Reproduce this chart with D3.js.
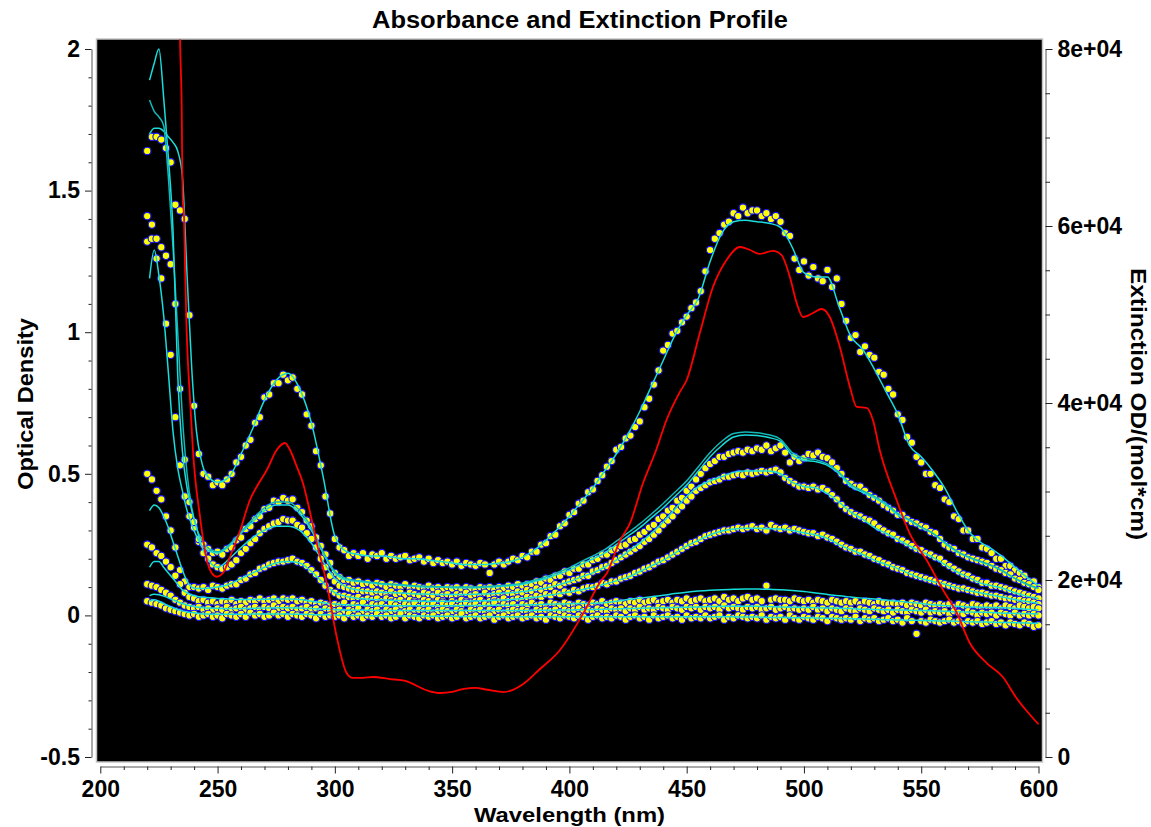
<!DOCTYPE html>
<html>
<head>
<meta charset="utf-8">
<script src="https://cdn.jsdelivr.net/npm/d3@7"></script>
<style>
  body { margin: 0; background: #fff; }
  svg text { font-family: "Liberation Sans", Arial, sans-serif; font-weight: bold; }
</style>
</head>
<body>
<script>
width = 1151
height = 827

// measured points every 2 nm, fitted curves on their own grid
var dotWl = d3.range(220, 601, 2);
var fitWl = [221,223,225,227,229,231,233,235,237,239,241,243,245,
  250,255,260,265,270,275,280,285,290,295,300,305,310,315,320,325,330,335,340,345,
  350,355,360,365,370,375,380,385,390,395,400,405,410,415,420,425,430,435,440,445,
  450,455,460,465,470,475,480,485,490,495,500,505,510,515,520,525,530,535,540,545,
  550,555,560,565,570,575,580,585,590,595,600];

var spec1 = [1.64,1.69,1.69,1.68,1.65,1.6,1.45,1.43,1.4,1.06,
  0.74,0.57,0.5,0.49,0.46,0.47,0.46,0.48,0.5,0.54,
  0.56,0.6,0.62,0.68,0.7,0.77,0.78,0.82,0.82,0.85,
  0.83,0.84,0.8,0.78,0.71,0.67,0.58,0.53,0.42,0.36,
  0.27,0.24,0.23,0.21,0.22,0.21,0.22,0.2,0.215,0.21,
  0.22,0.2,0.21,0.2,0.205,0.21,0.195,0.2,0.205,0.19,
  0.2,0.185,0.195,0.185,0.19,0.18,0.19,0.175,0.185,0.18,
  0.175,0.185,0.18,0.15,0.18,0.19,0.18,0.19,0.2,0.195,
  0.21,0.205,0.225,0.225,0.25,0.255,0.28,0.285,0.315,0.325,
  0.355,0.365,0.395,0.405,0.435,0.445,0.475,0.495,0.525,0.545,
  0.585,0.595,0.625,0.635,0.665,0.685,0.735,0.765,0.815,0.865,
  0.935,0.955,0.995,1.005,1.035,1.055,1.085,1.105,1.145,1.215,
  1.29,1.33,1.35,1.38,1.39,1.42,1.41,1.44,1.42,1.43,
  1.43,1.41,1.42,1.4,1.41,1.39,1.35,1.34,1.26,1.22,
  1.25,1.2,1.23,1.19,1.18,1.22,1.16,1.19,1.1,1.04,
  0.98,0.99,0.93,0.95,0.92,0.91,0.86,0.85,0.8,0.78,
  0.71,0.69,0.63,0.61,0.56,0.54,0.5,0.5,0.46,0.45,
  0.41,0.4,0.35,0.34,0.3,0.3,0.27,0.27,0.24,0.235,
  0.22,0.2,0.2,0.175,0.175,0.16,0.15,0.14,0.12,0.12,
  0.1];

var spec2 = [1.32,1.33,1.26,1.19,1.03,0.92,0.7,0.53,0.42,0.35,
  0.31,0.26,0.25,0.235,0.22,0.225,0.215,0.235,0.24,0.265,
  0.275,0.305,0.315,0.34,0.35,0.375,0.38,0.405,0.4,0.415,
  0.405,0.41,0.38,0.365,0.335,0.315,0.275,0.245,0.215,0.185,
  0.15,0.135,0.12,0.125,0.115,0.12,0.11,0.115,0.105,0.115,
  0.11,0.1,0.11,0.105,0.1,0.11,0.095,0.105,0.1,0.095,
  0.105,0.095,0.1,0.09,0.1,0.095,0.1,0.09,0.1,0.095,
  0.09,0.1,0.095,0.1,0.09,0.1,0.095,0.105,0.1,0.11,
  0.1,0.11,0.105,0.12,0.115,0.13,0.125,0.14,0.14,0.155,
  0.15,0.165,0.165,0.18,0.18,0.195,0.2,0.215,0.215,0.23,
  0.235,0.245,0.25,0.265,0.27,0.285,0.295,0.31,0.32,0.34,
  0.35,0.37,0.38,0.405,0.415,0.44,0.455,0.48,0.5,0.52,
  0.535,0.545,0.56,0.56,0.57,0.575,0.58,0.575,0.585,0.58,
  0.59,0.585,0.6,0.58,0.59,0.6,0.575,0.54,0.56,0.545,
  0.555,0.57,0.565,0.575,0.56,0.555,0.54,0.52,0.5,0.475,
  0.465,0.455,0.455,0.44,0.425,0.415,0.405,0.39,0.38,0.37,
  0.355,0.355,0.34,0.33,0.325,0.315,0.31,0.295,0.29,0.27,
  0.25,0.24,0.235,0.22,0.215,0.205,0.2,0.195,0.19,0.185,
  0.175,0.165,0.16,0.15,0.145,0.13,0.125,0.115,0.11,0.1,
  0.09];

var spec3 = [1.41,1.38,1.33,1.3,1.27,1.24,1.1,0.8,0.55,0.4,
  0.33,0.27,0.22,0.2,0.18,0.17,0.165,0.17,0.18,0.195,
  0.22,0.235,0.255,0.27,0.29,0.305,0.315,0.325,0.33,0.34,
  0.335,0.335,0.32,0.31,0.29,0.27,0.24,0.2,0.17,0.14,
  0.12,0.105,0.1,0.095,0.09,0.09,0.085,0.085,0.08,0.085,
  0.08,0.075,0.085,0.075,0.08,0.07,0.08,0.075,0.07,0.08,
  0.075,0.07,0.08,0.07,0.075,0.065,0.075,0.07,0.08,0.07,
  0.075,0.065,0.08,0.07,0.075,0.08,0.07,0.08,0.075,0.085,
  0.08,0.09,0.085,0.095,0.09,0.1,0.1,0.11,0.105,0.115,
  0.12,0.125,0.13,0.14,0.14,0.155,0.16,0.17,0.175,0.185,
  0.195,0.205,0.215,0.225,0.235,0.245,0.26,0.27,0.285,0.3,
  0.32,0.335,0.35,0.37,0.385,0.405,0.42,0.44,0.45,0.46,
  0.47,0.475,0.48,0.49,0.49,0.495,0.5,0.495,0.505,0.5,
  0.505,0.51,0.505,0.51,0.515,0.505,0.485,0.475,0.465,0.455,
  0.455,0.45,0.455,0.445,0.45,0.44,0.425,0.41,0.39,0.375,
  0.365,0.355,0.35,0.34,0.335,0.325,0.31,0.3,0.29,0.285,
  0.27,0.265,0.255,0.245,0.235,0.23,0.22,0.215,0.205,0.2,
  0.185,0.175,0.165,0.155,0.145,0.14,0.13,0.125,0.115,0.115,
  0.105,0.105,0.1,0.095,0.09,0.085,0.08,0.075,0.07,0.065,
  0.06];

var spec4 = [0.5,0.48,0.44,0.41,0.35,0.3,0.24,0.16,0.12,0.1,
  0.1,0.095,0.1,0.09,0.105,0.1,0.095,0.105,0.11,0.11,
  0.125,0.13,0.145,0.15,0.165,0.17,0.18,0.185,0.19,0.19,
  0.195,0.2,0.19,0.185,0.175,0.16,0.145,0.125,0.105,0.09,
  0.08,0.07,0.07,0.065,0.06,0.065,0.055,0.06,0.055,0.06,
  0.05,0.06,0.055,0.05,0.055,0.045,0.055,0.05,0.045,0.055,
  0.05,0.045,0.055,0.05,0.04,0.05,0.045,0.055,0.05,0.045,
  0.05,0.055,0.045,0.05,0.055,0.05,0.06,0.05,0.055,0.06,
  0.055,0.065,0.06,0.07,0.065,0.075,0.07,0.08,0.075,0.085,
  0.08,0.09,0.085,0.095,0.1,0.1,0.105,0.115,0.11,0.12,
  0.12,0.13,0.135,0.14,0.15,0.155,0.165,0.17,0.18,0.19,
  0.195,0.205,0.215,0.225,0.235,0.245,0.255,0.26,0.27,0.28,
  0.285,0.29,0.295,0.3,0.3,0.305,0.31,0.305,0.31,0.315,
  0.305,0.31,0.3,0.32,0.31,0.305,0.31,0.3,0.305,0.3,
  0.295,0.29,0.29,0.28,0.285,0.275,0.27,0.26,0.25,0.24,
  0.235,0.225,0.225,0.215,0.21,0.2,0.195,0.185,0.18,0.17,
  0.165,0.16,0.15,0.145,0.14,0.135,0.13,0.125,0.12,0.115,
  0.11,0.105,0.1,0.095,0.095,0.09,0.085,0.08,0.08,0.075,
  0.07,0.07,0.065,0.06,0.06,0.055,0.055,0.05,0.05,0.045,
  0.04];

var spec5 = [0.25,0.24,0.22,0.21,0.19,0.17,0.14,0.11,0.08,0.065,
  0.06,0.05,0.055,0.045,0.05,0.04,0.05,0.045,0.055,0.04,
  0.05,0.045,0.055,0.05,0.06,0.05,0.055,0.06,0.05,0.06,
  0.055,0.06,0.05,0.055,0.045,0.05,0.04,0.045,0.04,0.035,
  0.04,0.035,0.045,0.03,0.04,0.035,0.045,0.03,0.04,0.035,
  0.04,0.03,0.045,0.035,0.03,0.04,0.035,0.045,0.03,0.04,
  0.035,0.04,0.03,0.045,0.035,0.04,0.03,0.035,0.045,0.035,
  0.04,0.03,0.04,0.035,0.045,0.03,0.04,0.035,0.04,0.03,
  0.04,0.035,0.045,0.035,0.04,0.03,0.045,0.04,0.035,0.045,
  0.04,0.035,0.045,0.04,0.035,0.045,0.04,0.05,0.04,0.045,
  0.05,0.045,0.04,0.05,0.045,0.055,0.045,0.05,0.055,0.045,
  0.05,0.055,0.045,0.055,0.05,0.06,0.05,0.055,0.06,0.05,
  0.055,0.06,0.05,0.065,0.055,0.06,0.05,0.06,0.065,0.055,
  0.06,0.05,0.105,0.055,0.06,0.055,0.055,0.05,0.06,0.055,
  0.05,0.055,0.045,0.055,0.05,0.045,0.055,0.05,0.045,0.05,
  0.045,0.05,0.04,0.05,0.045,0.04,0.05,0.045,0.04,0.045,
  0.04,0.045,0.035,0.045,0.04,0.035,0.045,0.04,0.035,0.04,
  0.035,0.04,0.03,0.04,0.035,0.03,0.04,0.035,0.03,0.035,
  0.03,0.035,0.025,0.035,0.03,0.025,0.035,0.03,0.025,0.03,
  0.025];

var spec6 = [0.11,0.105,0.1,0.09,0.08,0.07,0.055,0.045,0.035,0.03,
  0.025,0.03,0.02,0.025,0.015,0.025,0.02,0.03,0.02,0.025,
  0.03,0.02,0.025,0.03,0.02,0.03,0.025,0.035,0.025,0.03,
  0.025,0.03,0.02,0.025,0.03,0.02,0.025,0.015,0.025,0.02,
  0.015,0.02,0.01,0.02,0.015,0.025,0.01,0.02,0.015,0.02,
  0.01,0.02,0.015,0.02,0.01,0.015,0.02,0.01,0.02,0.015,
  0.02,0.01,0.015,0.02,0.015,0.01,0.02,0.015,0.01,0.02,
  0.015,0.02,0.01,0.02,0.015,0.02,0.01,0.015,0.02,0.015,
  0.02,0.015,0.01,0.02,0.015,0.02,0.015,0.02,0.01,0.02,
  0.015,0.02,0.025,0.015,0.02,0.015,0.025,0.02,0.015,0.025,
  0.02,0.025,0.015,0.025,0.02,0.03,0.02,0.025,0.02,0.03,
  0.025,0.02,0.03,0.025,0.02,0.03,0.025,0.03,0.02,0.03,
  0.025,0.03,0.02,0.035,0.025,0.03,0.025,0.02,0.03,0.025,
  0.03,0.02,0.025,0.03,0.02,0.025,0.03,0.02,0.025,0.02,
  0.025,0.02,0.03,0.02,0.025,0.015,0.025,0.02,0.015,0.025,
  0.02,0.015,0.025,0.02,0.015,0.025,0.02,0.015,0.02,0.01,
  0.02,0.015,0.01,0.02,0.015,0.01,0.02,0.01,0.015,0.01,
  0.015,0.005,0.015,0.01,0.005,0.015,0.01,0.0,0.01,0.005,
  0.01,0.0,0.01,0.005,0.0,0.01,0.0,0.005,0.0,0.005,
  0.0];

var spec7 = [0.05,0.045,0.04,0.035,0.025,0.02,0.015,0.01,0.005,0.0,
  0.005,-0.005,0.0,0.005,-0.005,0.0,-0.01,0.005,0.0,-0.005,
  0.005,-0.005,0.01,0.0,0.005,-0.005,0.0,0.01,0.0,0.005,
  -0.005,0.005,0.0,-0.005,0.005,0.0,-0.01,0.005,-0.005,0.0,
  -0.005,0.0,-0.01,0.005,-0.005,0.0,-0.01,0.0,-0.005,0.005,
  -0.005,0.0,-0.01,-0.005,0.005,-0.01,0.0,-0.005,-0.01,0.0,
  -0.005,0.0,-0.01,-0.005,0.0,-0.01,-0.005,0.005,-0.01,-0.005,
  0.0,-0.01,-0.005,0.0,-0.015,-0.005,0.0,-0.01,-0.005,0.0,
  -0.01,-0.005,0.0,-0.01,-0.005,-0.015,0.0,-0.005,-0.01,0.0,
  -0.005,-0.01,0.0,-0.005,-0.015,-0.005,0.0,-0.01,-0.005,-0.01,
  0.0,-0.005,-0.015,-0.005,0.0,-0.01,-0.005,-0.015,0.0,-0.01,
  -0.005,0.0,-0.01,-0.005,-0.015,0.0,-0.01,-0.005,-0.01,0.0,
  -0.01,-0.005,0.0,-0.015,-0.005,-0.01,0.0,-0.005,-0.01,-0.005,
  -0.01,0.0,-0.015,-0.005,-0.01,-0.005,-0.015,0.0,-0.01,-0.015,
  -0.005,-0.01,-0.015,-0.005,-0.01,-0.02,-0.005,-0.01,-0.015,-0.01,
  -0.015,-0.005,-0.02,-0.01,-0.015,-0.01,-0.02,-0.015,-0.01,-0.02,
  -0.015,-0.025,-0.01,-0.02,-0.065,-0.02,-0.025,-0.015,-0.02,-0.025,
  -0.02,-0.015,-0.025,-0.02,-0.03,-0.02,-0.025,-0.02,-0.03,-0.025,
  -0.02,-0.03,-0.025,-0.035,-0.025,-0.03,-0.035,-0.025,-0.03,-0.04,
  -0.035];

var fit1 = [1.70,1.72,1.72,1.71,1.69,1.67,1.64,1.55,1.2,0.87,0.65,0.55,0.5,
  0.47,0.49,0.57,0.66,0.76,0.83,0.855,0.8,0.68,0.49,
  0.28,0.225,0.215,0.21,0.21,0.205,0.2,0.2,0.195,0.19,
  0.185,0.18,0.18,0.18,0.185,0.19,0.205,0.23,0.265,0.305,
  0.35,0.4,0.45,0.51,0.57,0.64,0.72,0.81,0.9,0.99,
  1.06,1.12,1.25,1.35,1.39,1.395,1.39,1.385,1.37,1.3,
  1.21,1.195,1.195,1.09,0.985,0.94,0.87,0.79,0.71,0.6,
  0.56,0.51,0.45,0.37,0.3,0.26,0.235,0.205,0.17,0.135,
  0.105];

var fit2 = [1.19,1.29,1.2,1.06,0.86,0.65,0.52,0.44,0.37,0.32,0.28,0.25,0.235,
  0.22,0.245,0.29,0.33,0.37,0.39,0.39,0.36,0.3,0.22,
  0.15,0.125,0.12,0.115,0.11,0.108,0.105,0.102,0.1,0.1,
  0.098,0.098,0.098,0.1,0.102,0.105,0.11,0.12,0.13,0.145,
  0.16,0.18,0.2,0.22,0.25,0.28,0.31,0.345,0.38,0.42,
  0.46,0.51,0.56,0.6,0.63,0.637,0.635,0.628,0.615,0.565,
  0.548,0.543,0.53,0.5,0.455,0.435,0.415,0.39,0.355,0.335,
  0.31,0.29,0.255,0.225,0.205,0.19,0.175,0.155,0.13,0.11,
  0.095];

var fit2b = [1.82,1.78,1.76,1.73,1.55,1.3,1.0,0.7,0.5,0.38,0.31,0.27,0.245,
  0.225,0.25,0.295,0.34,0.38,0.4,0.4,0.37,0.31,0.225,
  0.155,0.13,0.122,0.117,0.113,0.11,0.107,0.104,0.102,0.101,
  0.1,0.1,0.1,0.102,0.105,0.108,0.114,0.124,0.136,0.152,
  0.168,0.19,0.21,0.232,0.262,0.292,0.323,0.358,0.395,0.435,
  0.475,0.525,0.575,0.615,0.642,0.648,0.645,0.638,0.622,0.575,
  0.555,0.55,0.535,0.505,0.462,0.44,0.42,0.395,0.36,0.338,
  0.312,0.29,0.258,0.228,0.207,0.192,0.176,0.156,0.131,0.111,
  0.096];

var fit3 = [1.89,1.95,2.0,1.83,1.62,1.36,0.85,0.58,0.45,0.37,0.31,0.25,0.21,
  0.17,0.2,0.24,0.275,0.3,0.315,0.315,0.3,0.255,0.19,
  0.13,0.1,0.09,0.085,0.082,0.08,0.078,0.076,0.075,0.074,
  0.074,0.074,0.075,0.076,0.078,0.08,0.084,0.09,0.097,0.107,
  0.12,0.135,0.15,0.17,0.195,0.225,0.255,0.29,0.33,0.375,
  0.42,0.455,0.475,0.49,0.505,0.51,0.51,0.51,0.5,0.47,
  0.455,0.45,0.43,0.4,0.365,0.34,0.31,0.29,0.268,0.245,
  0.225,0.205,0.18,0.155,0.135,0.115,0.105,0.095,0.08,0.068,
  0.06];

var fit4 = [0.37,0.39,0.38,0.35,0.31,0.26,0.21,0.16,0.12,0.1,0.095,0.095,0.095,
  0.1,0.11,0.13,0.15,0.17,0.185,0.19,0.185,0.155,0.115,
  0.08,0.067,0.06,0.057,0.055,0.053,0.052,0.051,0.05,0.05,
  0.05,0.05,0.051,0.052,0.054,0.056,0.06,0.064,0.07,0.076,
  0.083,0.09,0.1,0.11,0.122,0.135,0.155,0.175,0.195,0.22,
  0.245,0.265,0.285,0.298,0.305,0.308,0.308,0.306,0.305,0.3,
  0.292,0.284,0.272,0.25,0.232,0.215,0.195,0.18,0.165,0.147,
  0.13,0.12,0.11,0.098,0.088,0.08,0.072,0.064,0.056,0.049,
  0.043];

var fit5 = [0.17,0.19,0.19,0.17,0.15,0.13,0.11,0.09,0.08,0.072,0.068,0.065,0.063,
  0.06,0.058,0.056,0.056,0.057,0.058,0.058,0.056,0.05,0.045,
  0.04,0.037,0.036,0.035,0.035,0.034,0.034,0.034,0.034,0.034,
  0.034,0.035,0.035,0.035,0.036,0.036,0.037,0.038,0.039,0.04,
  0.041,0.042,0.043,0.045,0.05,0.056,0.061,0.066,0.071,0.077,
  0.082,0.086,0.089,0.091,0.092,0.093,0.093,0.092,0.091,0.088,
  0.084,0.079,0.074,0.069,0.065,0.061,0.058,0.054,0.05,0.046,
  0.042,0.038,0.035,0.032,0.03,0.029,0.028,0.027,0.025,0.022,
  0.02];

var fit6 = [0.07,0.075,0.073,0.068,0.062,0.055,0.048,0.042,0.037,0.033,0.03,0.028,0.026,
  0.025,0.024,0.024,0.025,0.026,0.027,0.027,0.026,0.024,0.022,
  0.02,0.019,0.018,0.018,0.017,0.017,0.017,0.017,0.017,0.017,
  0.017,0.017,0.017,0.017,0.017,0.017,0.017,0.018,0.018,0.019,
  0.019,0.02,0.021,0.022,0.023,0.024,0.025,0.026,0.027,0.028,
  0.029,0.03,0.031,0.032,0.032,0.032,0.032,0.031,0.03,0.029,
  0.028,0.027,0.026,0.025,0.024,0.022,0.021,0.02,0.019,0.018,
  0.017,0.016,0.015,0.013,0.012,0.011,0.01,0.008,0.007,0.006,
  0.005];

var fit7 = [0.05,0.055,0.05,0.042,0.034,0.027,0.021,0.016,0.012,0.01,0.008,0.006,0.005,
  0.004,0.004,0.004,0.005,0.005,0.005,0.005,0.004,0.003,0.002,
  0.001,0.0,0.0,-0.001,-0.001,-0.002,-0.002,-0.002,-0.003,-0.003,
  -0.003,-0.004,-0.004,-0.004,-0.005,-0.005,-0.005,-0.005,-0.005,-0.005,
  -0.005,-0.005,-0.005,-0.005,-0.005,-0.005,-0.005,-0.005,-0.005,-0.005,
  -0.005,-0.005,-0.005,-0.005,-0.005,-0.006,-0.006,-0.007,-0.007,-0.008,
  -0.008,-0.009,-0.01,-0.011,-0.012,-0.013,-0.014,-0.015,-0.016,-0.017,
  -0.018,-0.019,-0.02,-0.021,-0.022,-0.023,-0.024,-0.025,-0.026,-0.027,
  -0.028];

// extinction coefficient (right axis)
var extWl = [233.5,234,234.7,235.1,235.7,236.1,236.8,238.2,239,239.5,242.5,245.4,247.5,249.6,
  252.3,255.3,259.5,263.8,267.5,271,275.2,278.7,280.9,283.5,286.4,289.3,292.3,296.5,300.8,
  305,307.7,312,316.3,323.5,330,340,345,350,355,360,365,372,380,387,396,406,413.2,416,
  421.7,425.8,431.4,437,441.4,447,450,455.6,461.2,467,472.7,477,481,486.8,490.4,494,496.9,
  499.6,503.9,507.5,511,515.3,519.6,522.5,526.7,529.4,532.3,539.5,545,552.3,559.3,565.2,
  570.7,577.9,584.8,590.6,595,600];
var extVal = [92000,81100,73500,63300,61000,55800,48250,40700,36950,34690,27150,22260,20790,20370,
  20790,22630,25500,29040,30900,32430,34690,35480,34690,33000,30960,27800,24180,19660,13560,
  9490,8930,8950,9040,8810,8600,7460,7230,7350,7700,7800,7600,7340,8200,9830,12090,16270,19810,20790,
  24520,26400,30960,34690,38080,41200,42600,47900,53100,56160,57630,57290,56840,57180,56730,54240,51300,
  49720,50170,50620,49720,46330,41810,39550,39440,38080,34690,29040,25310,22260,18870,16270,
  12880,10620,9040,6670,5200,3700];

var odTicks = [-0.5, 0, 0.5, 1, 1.5, 2];
var odMinor = [-0.4,-0.3,-0.2,-0.1,0.1,0.2,0.3,0.4,0.6,0.7,0.8,0.9,1.1,1.2,1.3,1.4,1.6,1.7,1.8,1.9];
var extTicks = [0, 20000, 40000, 60000, 80000];
var extMinor = [5000, 10000, 15000, 25000, 30000, 35000, 45000, 50000, 55000, 65000, 70000, 75000];
var wlTicks = [200, 250, 300, 350, 400, 450, 500, 550, 600];
var wlMinor = d3.range(200, 601, 10).filter(function (d) { return d % 50 != 0 });

var spectra = [spec1, spec2, spec3, spec4, spec5, spec6, spec7];
var fits = [fit1, fit2, fit2b, fit3, fit4, fit5, fit6, fit7];

var x = d3.scaleLinear().domain([200, 600]).range([100.3, 1038.5]);
var yOD = d3.scaleLinear().domain([-0.5, 2]).range([757, 49]);
var yExt = d3.scaleLinear().domain([0, 80000]).range([757, 49]);

var svg = d3.select("body").append("svg")
    .attr("width", width)
    .attr("height", height);

svg.append("defs").append("clipPath").attr("id", "plotclip")
    .append("rect").attr("x", 97).attr("y", 39.5).attr("width", 945).attr("height", 722);

// black plotting panel
svg.append("rect")
    .attr("x", 96.5).attr("y", 39)
    .attr("width", 946).attr("height", 723)
    .attr("fill", "black")
    .attr("stroke", "#c4c4c4")
    .attr("stroke-width", 1.5);

var plot = svg.append("g").attr("clip-path", "url(#plotclip)");

// measured points
spectra.forEach(function (s, k) {
    plot.append("g").attr("class", "spec" + k)
        .selectAll("circle")
        .data(s.map(function (v, i) { return [dotWl[i], v] }))
        .enter()
        .append("circle")
        .attr("cx", function (d) { return x(d[0]) })
        .attr("cy", function (d) { return yOD(d[1]) })
        .attr("r", 3.7)
        .attr("fill", "#ffff00")
        .attr("stroke", "#1010ff")
        .attr("stroke-width", 1.1);
});

// fitted curves
var fitLine = d3.line()
    .x(function (d) { return x(d[0]) })
    .y(function (d) { return yOD(d[1]) })
    .curve(d3.curveMonotoneX);

fits.forEach(function (f, k) {
    plot.append("path")
        .datum(f.map(function (v, i) { return [fitWl[i], v] }))
        .attr("d", fitLine)
        .attr("fill", "none")
        .attr("stroke", k == 2 ? "#10b8b8" : "#19dcdc")
        .attr("stroke-width", 1.5);
});

// extinction curve on the right axis
var extLine = d3.line()
    .x(function (d) { return x(d[0]) })
    .y(function (d) { return yExt(d[1]) })
    .curve(d3.curveMonotoneX);

plot.append("path")
    .datum(extVal.map(function (v, i) { return [extWl[i], v] }))
    .attr("d", extLine)
    .attr("fill", "none")
    .attr("stroke", "#ff0000")
    .attr("stroke-width", 1.8);

styleAxis = function (g) {
    g.attr("font-family", null).attr("font-size", null);
    g.select(".domain").attr("stroke", "#555");
    g.selectAll(".tick line").attr("stroke", "#222");
    g.selectAll(".tick text").attr("fill", "#000").style("font-size", "23px");
}

// left axis
var leftG = svg.append("g").attr("transform", "translate(91.5,0)")
    .call(d3.axisLeft(yOD).tickValues(odTicks).tickSize(6.5).tickSizeOuter(0).tickPadding(5)
        .tickFormat(function (d) { return String(d) }));
styleAxis(leftG);
var leftMinor = svg.append("g").attr("transform", "translate(91.5,0)")
    .call(d3.axisLeft(yOD).tickValues(odMinor).tickSize(3).tickFormat(""));
leftMinor.select(".domain").remove();
leftMinor.selectAll("line").attr("stroke", "#222");

// right axis
var rightG = svg.append("g").attr("transform", "translate(1045.5,0)")
    .call(d3.axisRight(yExt).tickValues(extTicks).tickSize(7).tickSizeOuter(0).tickPadding(5)
        .tickFormat(function (d) { return d == 0 ? "0" : (d / 10000) + "e+04" }));
styleAxis(rightG);
var rightMinor = svg.append("g").attr("transform", "translate(1045.5,0)")
    .call(d3.axisRight(yExt).tickValues(extMinor).tickSize(4.5).tickFormat(""));
rightMinor.select(".domain").remove();
rightMinor.selectAll("line").attr("stroke", "#222");

// bottom axis
var bottomG = svg.append("g").attr("transform", "translate(0,766.5)")
    .call(d3.axisBottom(x).tickValues(wlTicks).tickSize(7).tickSizeOuter(0).tickPadding(7)
        .tickFormat(function (d) { return String(d) }));
styleAxis(bottomG);
var bottomMinor = svg.append("g").attr("transform", "translate(0,766.5)")
    .call(d3.axisBottom(x).tickValues(wlMinor).tickSize(3.5).tickFormat(""));
bottomMinor.select(".domain").remove();
bottomMinor.selectAll("line").attr("stroke", "#222");

// titles
svg.append("text")
    .attr("x", 580).attr("y", 28)
    .attr("text-anchor", "middle")
    .attr("font-size", "23px")
    .attr("textLength", 416).attr("lengthAdjust", "spacingAndGlyphs")
    .text("Absorbance and Extinction Profile");

svg.append("text")
    .attr("x", 569.5).attr("y", 822)
    .attr("text-anchor", "middle")
    .attr("font-size", "21px")
    .attr("textLength", 191).attr("lengthAdjust", "spacingAndGlyphs")
    .text("Wavelength (nm)");

svg.append("text")
    .attr("transform", "translate(33,404) rotate(-90)")
    .attr("text-anchor", "middle")
    .attr("font-size", "22px")
    .attr("textLength", 172).attr("lengthAdjust", "spacingAndGlyphs")
    .text("Optical Density");

svg.append("text")
    .attr("transform", "translate(1131,404) rotate(90)")
    .attr("text-anchor", "middle")
    .attr("font-size", "22px")
    .attr("textLength", 272).attr("lengthAdjust", "spacingAndGlyphs")
    .text("Extinction OD/(mol*cm)");
</script>
</body>
</html>
